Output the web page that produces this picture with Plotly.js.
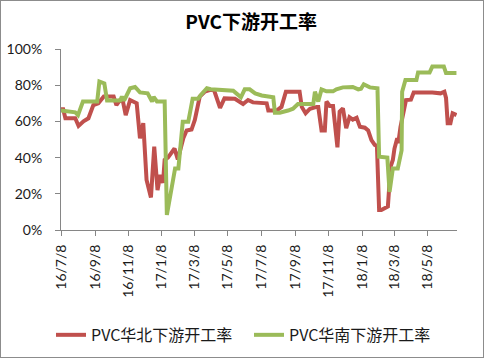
<!DOCTYPE html>
<html>
<head>
<meta charset="utf-8">
<script src="https://cdn.plot.ly/plotly-3.0.1.min.js"></script>
<style>
html,body{margin:0;padding:0;background:#fff;}
#wrap{width:484px;height:358px;box-sizing:border-box;border:1px solid #8c8c8c;background:#fff;overflow:hidden;}
#chart{width:482px;height:356px;}
</style>
</head>
<body>
<div id="wrap"><div id="chart"></div></div>
<script>
const chartTitle = "PVC下游开工率";
const seriesNames = ["PVC华北下游开工率", "PVC华南下游开工率"];

const northDates = ["2016-07-08","2016-07-12","2016-07-16","2016-08-03","2016-08-09","2016-08-18","2016-08-27","2016-09-05","2016-09-14","2016-09-24",
"2016-10-12","2016-10-17","2016-10-23","2016-10-29","2016-11-03","2016-11-11","2016-11-23","2016-11-29","2016-12-05","2016-12-11",
"2016-12-19","2016-12-25","2016-12-31","2017-01-05","2017-01-10","2017-01-13","2017-01-19","2017-01-31","2017-02-06","2017-02-16",
"2017-02-22","2017-03-03","2017-03-09","2017-03-15","2017-03-18","2017-03-27","2017-04-05","2017-04-13","2017-04-24","2017-05-02",
"2017-05-10","2017-05-21","2017-06-05","2017-06-14","2017-06-23","2017-07-18","2017-07-21","2017-08-05","2017-08-14","2017-08-22",
"2017-09-16","2017-09-20","2017-09-27","2017-10-05","2017-10-17","2017-10-20","2017-10-26","2017-11-01","2017-11-04","2017-11-10",
"2017-11-16","2017-11-24","2017-11-28","2017-12-04","2017-12-10","2017-12-16","2017-12-22","2017-12-29","2018-01-04","2018-01-13",
"2018-01-19","2018-01-25","2018-01-31","2018-02-04","2018-02-08","2018-02-12","2018-02-24","2018-03-01","2018-03-05","2018-03-08",
"2018-03-13","2018-03-15","2018-03-19","2018-03-25","2018-03-29","2018-04-07","2018-04-12","2018-05-16","2018-05-23","2018-05-31",
"2018-06-07","2018-06-10","2018-06-13","2018-06-18","2018-06-22","2018-06-29"];
const northValues = [66.7,66.7,61.7,61.7,57.5,60.0,61.7,69.0,70.0,73.7,
73.7,69.0,71.5,71.0,63.5,71.8,70.0,50.7,59.0,27.6,
18.0,46.0,22.0,30.5,26.0,38.7,40.0,45.0,39.0,50.7,
55.0,55.5,60.8,70.0,73.7,76.4,77.3,77.3,67.5,72.7,
72.5,72.5,69.6,71.8,70.5,70.0,66.0,66.0,68.0,76.4,
76.4,68.0,64.5,67.0,68.0,68.0,55.0,55.0,71.0,68.5,
68.5,45.7,65.4,67.2,56.2,62.3,61.0,62.0,57.0,56.5,
55.0,49.7,47.0,46.5,11.0,11.0,13.0,35.0,38.7,45.0,
50.7,48.0,57.0,66.3,71.8,72.0,75.9,75.9,75.5,75.5,
76.4,73.0,59.0,59.0,64.5,63.5];

const southDates = ["2016-07-08","2016-08-03","2016-08-08","2016-08-17","2016-09-12","2016-09-16","2016-09-25","2016-09-30","2016-10-24","2016-10-27",
"2016-10-31","2016-11-11","2016-11-20","2016-11-29","2016-12-13","2016-12-21","2016-12-24","2016-12-30","2017-01-13","2017-01-17",
"2017-02-01","2017-02-07","2017-02-15","2017-02-25","2017-03-05","2017-03-15","2017-03-20","2017-03-31","2017-04-07","2017-04-30",
"2017-05-18","2017-06-01","2017-06-08","2017-06-17","2017-06-27","2017-07-09","2017-07-30","2017-08-02","2017-08-11","2017-08-26",
"2017-09-04","2017-09-13","2017-10-11","2017-10-14","2017-10-20","2017-10-26","2017-11-04","2017-11-16","2017-11-22","2017-12-04",
"2017-12-22","2018-01-01","2018-01-06","2018-01-11","2018-01-22","2018-02-05","2018-02-08","2018-02-23","2018-02-27","2018-03-05",
"2018-03-14","2018-03-21","2018-03-22","2018-03-28","2018-04-17","2018-04-20","2018-05-11","2018-05-16","2018-06-06","2018-06-10",
"2018-06-29"];
const southValues = [66.0,65.0,63.5,71.0,71.0,82.0,81.0,71.5,71.5,73.7,
71.5,78.3,79.0,76.0,75.5,71.0,73.5,71.0,71.0,8.3,
34.0,34.0,59.8,59.8,72.5,72.5,74.6,78.3,77.8,77.3,
77.0,73.3,77.7,77.7,75.5,74.3,73.3,64.8,64.8,66.0,
67.0,69.6,69.6,76.4,71.0,77.7,76.6,76.6,77.7,78.8,
79.0,77.7,78.0,80.5,78.8,78.3,40.5,40.0,21.0,34.0,
34.0,44.0,76.4,82.9,82.9,87.0,87.0,90.3,90.3,86.7,
86.7];

const tickDates = ["2016-07-08","2016-09-08","2016-11-08","2017-01-08","2017-03-08","2017-05-08","2017-07-08","2017-09-08","2017-11-08","2018-01-08","2018-03-08","2018-05-08"];
const tickLabels = ["16/7/8","16/9/8","16/11/8","17/1/8","17/3/8","17/5/8","17/7/8","17/9/8","17/11/8","18/1/8","18/3/8","18/5/8"];

const font = "Lato, 'Noto Sans CJK SC', sans-serif";
const pct = v => v.map(x => x / 100);

const traces = [
  {x: northDates, y: pct(northValues), name: seriesNames[0], type: "scatter", mode: "lines",
   line: {color: "#C0504D", width: 4}, legend: "legend"},
  {x: southDates, y: pct(southValues), name: seriesNames[1], type: "scatter", mode: "lines",
   line: {color: "#9BBB59", width: 4}, legend: "legend2"}
];

const legendStyle = {
  orientation: "h", xref: "container", xanchor: "left",
  yref: "container", y: 0.062, yanchor: "middle",
  font: {family: "'Noto Sans CJK SC', sans-serif", size: 16, color: "#1a1a1a"},
  itemwidth: 30, bgcolor: "rgba(0,0,0,0)"
};

const layout = {
  width: 482, height: 356,
  margin: {l: 60, r: 26, t: 48, b: 127},
  paper_bgcolor: "#fff", plot_bgcolor: "#fff",
  font: {family: font, color: "#1a1a1a", size: 14},
  title: {text: chartTitle, x: 0.519, xanchor: "center", xref: "container",
          y: 0.94, yanchor: "middle", yref: "container",
          font: {family: "'Noto Sans CJK SC', sans-serif", size: 19, weight: 700, color: "#000"}},
  xaxis: {type: "date", range: ["2016-07-08", "2018-06-30"],
          tickvals: tickDates, ticktext: tickLabels, tickangle: -90, automargin: false,
          showgrid: false, zeroline: false, showline: true, linecolor: "#868686", linewidth: 1,
          ticks: "outside", ticklen: 5, tickcolor: "#868686", ticklabelstandoff: 3,
          tickfont: {family: font, size: 14, color: "#1a1a1a"}},
  yaxis: {range: [0, 1], dtick: 0.2, tickformat: ".0%", automargin: false,
          showgrid: false, zeroline: false, showline: true, linecolor: "#868686", linewidth: 1,
          ticks: "outside", ticklen: 5, tickcolor: "#868686", ticklabelstandoff: 10,
          tickfont: {family: font, size: 14, color: "#1a1a1a"}},
  showlegend: true,
  legend: Object.assign({}, legendStyle, {x: 50 / 482}),
  legend2: Object.assign({}, legendStyle, {x: 248 / 482})
};

Plotly.newPlot("chart", traces, layout, {displayModeBar: false, staticPlot: true});
</script>
</body>
</html>
